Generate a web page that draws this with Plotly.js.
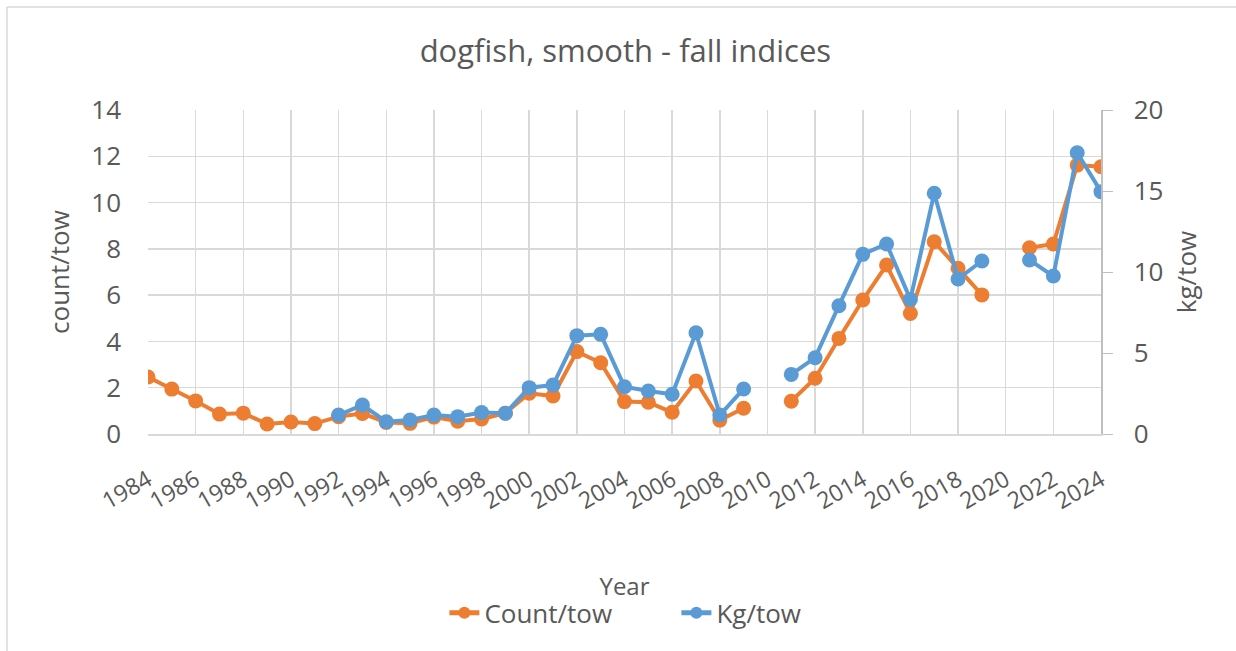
<!DOCTYPE html>
<html>
<head>
<meta charset="utf-8">
<script src="https://cdn.plot.ly/plotly-3.0.1.min.js"></script>
<style>html,body{margin:0;padding:0;background:#fff;}#chart{width:1236px;height:651px;}</style>
</head>
<body>
<div id="chart"></div>
<script>
const years = [1984,1985,1986,1987,1988,1989,1990,1991,1992,1993,1994,1995,1996,1997,1998,1999,2000,2001,2002,2003,2004,2005,2006,2007,2008,2009,2010,2011,2012,2013,2014,2015,2016,2017,2018,2019,2020,2021,2022,2023,2024];
const countPerTow = [2.46,1.94,1.43,0.86,0.9,0.43,0.52,0.45,0.75,0.89,0.5,0.46,0.73,0.55,0.65,0.9,1.76,1.64,3.56,3.08,1.40,1.37,0.94,2.29,0.6,1.11,null,1.42,2.41,4.13,5.79,7.3,5.21,8.31,7.16,6.01,null,8.05,8.21,11.62,11.55];
const kgPerTow = [null,null,null,null,null,null,null,null,1.17,1.79,0.76,0.86,1.17,1.07,1.33,1.28,2.86,3.02,6.07,6.15,2.92,2.65,2.45,6.25,1.17,2.78,null,3.68,4.71,7.92,11.09,11.73,8.31,14.86,9.57,10.68,null,10.74,9.75,17.36,14.96];
const titleText = 'dogfish, smooth - fall indices';
const xTitle = 'Year';
const yTitle = 'count/tow';
const y2Title = 'kg/tow';

const FONT = 'Open Sans, Noto Sans, sans-serif';
const GRAY = '#595959';

const traces = [
  {x: years, y: countPerTow, name: 'Count/tow', type: 'scatter', mode: 'lines+markers',
   line: {color: '#ED7D31', width: 4}, marker: {color: '#ED7D31', size: 15}, connectgaps: false, yaxis: 'y'},
  {x: years, y: kgPerTow, name: 'Kg/tow', type: 'scatter', mode: 'lines+markers',
   line: {color: '#5B9BD5', width: 4}, marker: {color: '#5B9BD5', size: 15}, connectgaps: false, yaxis: 'y2'}
];

const layout = {
  width: 1236, height: 651,
  paper_bgcolor: '#fff', plot_bgcolor: '#fff',
  margin: {l: 148, r: 135, t: 110, b: 217},
  font: {family: FONT, color: GRAY},
  title: {text: titleText, x: 0.506, xanchor: 'center', y: 0.922, yanchor: 'middle', font: {size: 31, color: GRAY, family: FONT}},
  showlegend: true,
  legend: {orientation: 'h', x: 0.311, xanchor: 'left', y: -0.552, yanchor: 'middle', entrywidth: 187, entrywidthmode: 'pixels', itemsizing: 'constant', font: {size: 26, color: GRAY}},
  xaxis: {
    range: [1984, 2024], tick0: 1984, dtick: 2, tickmode: 'linear',
    showgrid: true, gridcolor: '#d9d9d9', gridwidth: 1.5,
    showline: true, linecolor: '#d9d9d9', linewidth: 1.5,
    zeroline: false, ticks: '', tickangle: -30, ticklabelstandoff: 22,
    tickfont: {size: 23, color: GRAY},
    title: {text: xTitle, font: {size: 24, color: GRAY}, standoff: 63}
  },
  yaxis: {
    range: [0, 14], dtick: 2, tick0: 0, tickmode: 'linear',
    showgrid: true, gridcolor: '#d9d9d9', gridwidth: 1.5,
    showline: false, zeroline: false, ticks: '', ticklabelstandoff: 26,
    tickfont: {size: 26, color: GRAY},
    title: {text: yTitle, font: {size: 26, color: GRAY}, standoff: 14}
  },
  yaxis2: {
    overlaying: 'y', side: 'right', range: [0, 20], dtick: 5, tick0: 0, tickmode: 'linear',
    showgrid: false, showline: true, linecolor: '#bfbfbf', linewidth: 1.5, zeroline: false,
    ticks: 'outside', ticklen: 10, tickcolor: '#bfbfbf', ticklabelstandoff: 16,
    tickfont: {size: 26, color: GRAY},
    title: {text: y2Title, font: {size: 26, color: GRAY}, standoff: 15}
  },
  shapes: [
    {type: 'line', xref: 'paper', yref: 'paper', x0: -0.148, x1: 1.142, y0: 1.318, y1: 1.318, line: {color: '#d9d9d9', width: 1.5}},
    {type: 'line', xref: 'paper', yref: 'paper', x0: -0.148, x1: -0.148, y0: 1.318, y1: -0.67, line: {color: '#d9d9d9', width: 1.5}}
  ]
};

Plotly.newPlot('chart', traces, layout, {displayModeBar: false, staticPlot: true});
</script>
</body>
</html>
